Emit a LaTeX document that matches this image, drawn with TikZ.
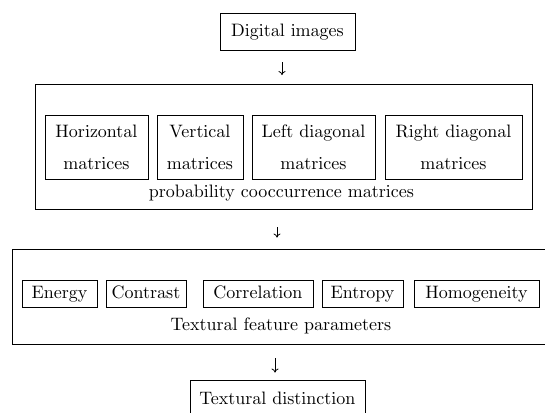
\documentclass[tikz,border=0pt]{standalone}
\usetikzlibrary{arrows.meta}
% Computer Modern at the 10pt design size, enlarged
\font\diagrm=cmr10 at 18bp
\begin{document}
\begin{tikzpicture}[x=1bp,y=-1bp,
    every node/.style={font={\diagrm\baselineskip=32bp}},
    box/.style={draw, line width=0.9pt, inner sep=0pt, align=center},
    frame/.style={draw, line width=0.9pt, inner sep=0pt},
    feat/.style={box, minimum height=27bp, text height=12.5bp, text depth=3.5bp},
    arr/.style={-{Computer Modern Rightarrow[length=4bp,width=7bp]}, line width=0.8pt}]
  \useasboundingbox (0,0) rectangle (545,412);
  \clip (0,0) rectangle (545,412);

  % input
  \node[box, minimum width=135bp, minimum height=37bp] (di) at (287.5,31.5) {Digital images};

  % co-occurrence matrices
  \node[frame, minimum width=497bp, minimum height=125bp] (pcm) at (283.5,147) {};
  \node[box, minimum width=103bp, minimum height=64bp] (hm) at (96.5,147)  {Horizontal\\matrices};
  \node[box, minimum width=86bp,  minimum height=64bp] (vm) at (200,147)   {Vertical\\matrices};
  \node[box, minimum width=123bp, minimum height=64bp] (ld) at (313.5,147) {Left diagonal\\matrices};
  \node[box, minimum width=137bp, minimum height=64bp] (rd) at (453.5,147) {Right diagonal\\matrices};
  \node (pcml) at (281.5,193) {probability cooccurrence matrices};

  % texture features
  \node[frame, minimum width=548bp, minimum height=95bp] (tfp) at (286,296.5) {};
  \node[feat, minimum width=75bp]  (en) at (59.5,294)  {Energy};
  \node[feat, minimum width=80bp]  (co) at (146,294)   {Contrast};
  \node[feat, minimum width=110bp] (cr) at (258,294)   {Correlation};
  \node[feat, minimum width=81bp]  (et) at (362.5,294) {Entropy};
  \node[feat, minimum width=125bp] (hg) at (476.5,294) {Homogeneity};
  \node (tfpl) at (281,326) {Textural feature parameters};

  % output
  \node[box, minimum width=175bp, minimum height=36bp] (td) at (277.5,398) {Textural distinction};

  % flow arrows
  \draw[arr, shorten <=12bp, shorten >=9bp]
    ([xshift=-5.5bp]di.south) -- ([xshift=-5.5bp]di.south |- pcm.north);
  \draw[arr, shorten <=17.5bp, shorten >=11bp]
    ([xshift=-6.5bp]pcm.south) -- ([xshift=-6.5bp]pcm.south |- tfp.north);
  \draw[arr, shorten <=14bp, shorten >=7bp]
    ([xshift=-2.5bp]td.north |- tfp.south) -- ([xshift=-2.5bp]td.north);
\end{tikzpicture}
\end{document}
